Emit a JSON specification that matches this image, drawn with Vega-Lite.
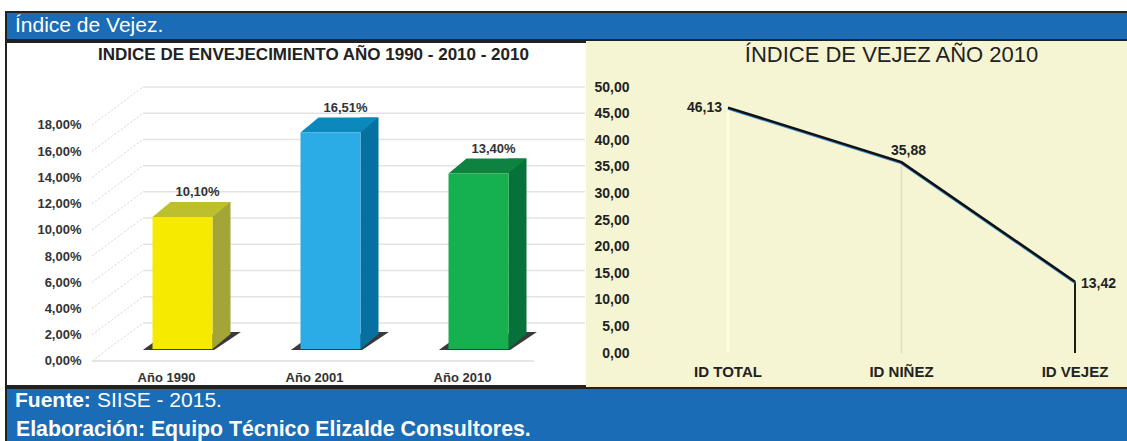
{
"$schema":"https://vega.github.io/schema/vega-lite/v6.json",
"padding":{"left":5,"top":11,"right":0,"bottom":0},
"background":"#ffffff",
"config":{"font":"Liberation Sans","concat":{"spacing":0},"axis":{"domain":false,"ticks":false,"grid":false,"title":null,"labelOverlap":false}},
"datasets":{
"bars":[{"year":"Año 1990","value":10.07,"label":"10,10%"},{"year":"Año 2001","value":16.51,"label":"16,51%"},{"year":"Año 2010","value":13.38,"label":"13,40%"}],
"ticks":[{"tick":0},{"tick":2},{"tick":4},{"tick":6},{"tick":8},{"tick":10},{"tick":12},{"tick":14},{"tick":16},{"tick":18}],
"vejez":[{"grupo":"ID TOTAL","value":46.13,"label":"46,13"},{"grupo":"ID NIÑEZ","value":35.88,"label":"35,88"},{"grupo":"ID VEJEZ","value":13.42,"label":"13,42"}]
},
"vconcat":[
{"width":1122,"height":28,"view":{"fill":"#196cb5","stroke":"#222222","strokeWidth":2},
 "data":{"values":[{"t":"Índice de Vejez."}]},
 "mark":{"type":"text","align":"left","dx":9,"fontSize":21,"color":"#ffffff"},
 "encoding":{"x":{"datum":0,"type":"quantitative","scale":{"domain":[0,1]},"axis":null},"y":{"datum":0.5,"type":"quantitative","scale":{"domain":[0,1]},"axis":null},"text":{"field":"t"}}},
{"hconcat":[
 {"width":581,"height":344,"view":{"fill":"#ffffff","stroke":"#222222","strokeWidth":2},
  "data":{"name":"bars"},
  "resolve":{"scale":{"color":"independent"}},
  "encoding":{"x":{"field":"year","type":"nominal","scale":{"type":"band","domain":["Año 1990","Año 2001","Año 2010"],"range":[102.5,546.5],"padding":0}}},
  "layer":[
   {"data":{"name":"ticks"},"mark":{"type":"point","filled":false,"size":6400,"opacity":1,"stroke":"#d4d4d4","strokeWidth":1,"strokeDash":[2,2],"shape":"M-2.2625,0L-0.9875,-0.95"},
    "encoding":{"x":{"datum":"Año 1990","type":"nominal","axis":{"labelFontSize":13,"labelFontWeight":"bold","labelColor":"#333333","labelAngle":0,"labelOffset":-16,"offset":-15,"labelPadding":0}},
     "y":{"field":"tick","type":"quantitative","scale":{"domain":[-1.91,24.33],"nice":false,"zero":false},"axis":{"values":[0,2,4,6,8,10,12,14,16,18],"tickCount":20,"orient":"left","offset":-75,"labelPadding":0,"labelFontSize":13,"labelFontWeight":"bold","labelColor":"#333333","labelExpr":"replace(format(datum.value,'.2f'),'.',',')+'%'"}}}},
   {"data":{"name":"ticks"},"mark":{"type":"point","filled":false,"size":6400,"opacity":1,"stroke":"#e3e3e3","strokeWidth":1.5,"shape":"M-0.9875,-0.95L10.06,-0.95"},
    "encoding":{"x":{"datum":"Año 1990","type":"nominal"},"y":{"field":"tick","type":"quantitative"}}},
   {"data":{"values":[{"tick":0}]},"mark":{"type":"point","filled":false,"size":6400,"opacity":1,"stroke":"#dcdcdc","strokeWidth":1.5,"shape":"M-2.2625,0L8.79,0"},
    "encoding":{"x":{"datum":"Año 1990","type":"nominal"},"y":{"field":"tick","type":"quantitative"}}},
   {"mark":{"type":"point","filled":true,"size":6400,"opacity":1,"yOffset":-12,"color":"#3a3a3a","shape":"M-0.99,0.025L0.79,0.025L1.46,-0.425L1.05,-0.425L-0.75,-0.15Z"},
    "encoding":{"y":{"datum":0,"type":"quantitative"}}},
   {"mark":{"type":"bar","width":18,"xOffset":39,"yOffset":-27,"y2Offset":-27},
    "encoding":{"y":{"field":"value","type":"quantitative","stack":null},"y2":{"datum":0},"color":{"field":"year","type":"nominal","legend":null,"scale":{"range":["#a3a537","#0670a1","#06713a"]}}}},
   {"mark":{"type":"point","filled":true,"size":6400,"opacity":1,"yOffset":-12,"shape":"M0.75,0L1.2,-0.375L0.75,-0.375Z"},
    "encoding":{"y":{"datum":0,"type":"quantitative"},"color":{"field":"year","type":"nominal","legend":null,"scale":{"range":["#a3a537","#0670a1","#06713a"]}}}},
   {"mark":{"type":"point","filled":true,"size":6400,"opacity":1,"yOffset":-12,"shape":"M-0.75,0L-0.3,-0.375L1.2,-0.375L0.75,0Z"},
    "encoding":{"y":{"field":"value","type":"quantitative"},"color":{"field":"year","type":"nominal","legend":null,"scale":{"range":["#bdbf2d","#0c88bd","#0e823f"]}}}},
   {"mark":{"type":"bar","width":60,"yOffset":-12,"y2Offset":-12},
    "encoding":{"y":{"field":"value","type":"quantitative","stack":null},"y2":{"datum":0},"color":{"field":"year","type":"nominal","legend":null,"scale":{"range":["#f5ea00","#2cace6","#16b14f"]}}}},
   {"mark":{"type":"text","fontSize":13,"fontWeight":"bold","color":"#333333","dx":15,"dy":-37},
    "encoding":{"y":{"field":"value","type":"quantitative"},"text":{"field":"label"}}},
   {"data":{"values":[{"t":"INDICE DE ENVEJECIMIENTO AÑO 1990 - 2010 - 2010"}]},"mark":{"type":"text","fontSize":17,"fontWeight":"bold","color":"#222222","dx":-17,"dy":1},
    "encoding":{"x":{"datum":"Año 2001","type":"nominal"},"y":{"datum":23.4,"type":"quantitative"},"text":{"field":"t"}}}
  ]},
 {"width":541,"height":344,"view":{"fill":"#f5f5d3","stroke":"#f5f5d3","strokeWidth":2},
  "data":{"name":"vejez"},
  "encoding":{"x":{"field":"grupo","type":"nominal","sort":null,"scale":{"type":"band","domain":["ID TOTAL","ID NIÑEZ","ID VEJEZ"],"range":[54.25,574.75],"padding":0},"axis":{"labelAngle":0,"labelFontSize":15,"labelFontWeight":"bold","labelColor":"#222222","offset":-22,"labelPadding":0}}},
  "layer":[
   {"data":{"values":[{"grupo":"ID TOTAL","value":46.13}]},"mark":{"type":"rule","color":"#fdfdde","strokeWidth":3},
    "encoding":{"y":{"field":"value","type":"quantitative","scale":{"domain":[-6.19,58.46],"nice":false,"zero":false},"axis":{"values":[0,5,10,15,20,25,30,35,40,45,50],"tickCount":20,"orient":"left","offset":-42,"labelPadding":0,"labelFontSize":14,"labelFontWeight":"bold","labelColor":"#222222","labelExpr":"replace(format(datum.value,'.2f'),'.',',')"}},"y2":{"datum":0}}},
   {"data":{"values":[{"grupo":"ID NIÑEZ","value":35.88}]},"mark":{"type":"rule","color":"#dcdcc0","strokeWidth":1.5},
    "encoding":{"y":{"field":"value","type":"quantitative"},"y2":{"datum":0}}},
   {"data":{"values":[{"grupo":"ID VEJEZ","value":13.42}]},"mark":{"type":"rule","color":"#1a1a1a","strokeWidth":2},
    "encoding":{"y":{"field":"value","type":"quantitative"},"y2":{"datum":0}}},
   {"mark":{"type":"line","color":"#3f8fd6","strokeWidth":2.5,"yOffset":1},"encoding":{"y":{"field":"value","type":"quantitative"}}},
   {"mark":{"type":"line","color":"#111111","strokeWidth":2.5},"encoding":{"y":{"field":"value","type":"quantitative"}}},
   {"transform":[{"filter":"datum.grupo==='ID TOTAL'"}],"mark":{"type":"text","align":"right","dx":-6,"fontSize":14,"fontWeight":"bold","color":"#222222"},
    "encoding":{"y":{"field":"value","type":"quantitative"},"text":{"field":"label"}}},
   {"transform":[{"filter":"datum.grupo==='ID NIÑEZ'"}],"mark":{"type":"text","dx":7,"dy":-11,"fontSize":14,"fontWeight":"bold","color":"#222222"},
    "encoding":{"y":{"field":"value","type":"quantitative"},"text":{"field":"label"}}},
   {"transform":[{"filter":"datum.grupo==='ID VEJEZ'"}],"mark":{"type":"text","align":"left","dx":6,"dy":2,"fontSize":14,"fontWeight":"bold","color":"#222222"},
    "encoding":{"y":{"field":"value","type":"quantitative"},"text":{"field":"label"}}},
   {"data":{"values":[{"t":"ÍNDICE DE VEJEZ AÑO 2010"}]},"mark":{"type":"text","fontSize":22,"color":"#222222","dx":-10,"dy":1},
    "encoding":{"x":{"datum":"ID NIÑEZ","type":"nominal"},"y":{"datum":56.2,"type":"quantitative"},"text":{"field":"t"}}}
  ]}
 ],"spacing":0,"bounds":"flush"},
{"width":1122,"height":55,"view":{"fill":"#196cb5","stroke":"#222222","strokeWidth":2},
 "encoding":{"x":{"datum":0,"type":"quantitative","scale":{"domain":[0,1]},"axis":null},"y":{"field":"row","type":"quantitative","scale":{"domain":[0,1]},"axis":null},"text":{"field":"t"}},
 "layer":[
  {"data":{"values":[{"t":"Fuente:","row":0.76}]},"mark":{"type":"text","align":"left","dx":9,"fontSize":21,"fontWeight":"bold","color":"#ffffff"}},
  {"data":{"values":[{"t":"SIISE - 2015.","row":0.76}]},"mark":{"type":"text","align":"left","dx":91,"fontSize":21,"color":"#ffffff"}},
  {"data":{"values":[{"t":"Elaboración: Equipo Técnico Elizalde Consultores.","row":0.24}]},"mark":{"type":"text","align":"left","dx":10,"fontSize":21.3,"fontWeight":"bold","color":"#ffffff"}}
 ]}
],"spacing":0
}
